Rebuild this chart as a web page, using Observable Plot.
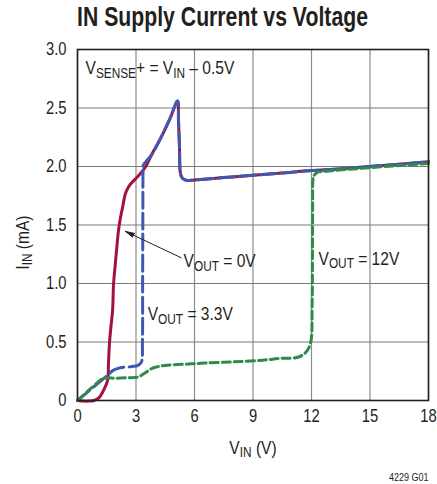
<!DOCTYPE html>
<html>
<head>
<meta charset="utf-8">
<script src="https://cdn.jsdelivr.net/npm/d3@7"></script>
<script src="https://cdn.jsdelivr.net/npm/@observablehq/plot@0.6"></script>
<style>
  html, body { margin: 0; padding: 0; background: #fff; }
  body { width: 437px; height: 484px; overflow: hidden; font-family: "Liberation Sans", Arial, sans-serif; }
  #title { height: 40px; box-sizing: border-box; padding-left: 77px; padding-top: 2px; font-size: 28px; font-weight: bold; color: #231f20; line-height: 30px; white-space: nowrap; }
  #title span { display: inline-block; transform-origin: 0 50%; }
  #chart svg { display: block; }
</style>
</head>
<body>
<div id="title"><span>IN Supply Current vs Voltage</span></div>
<div id="chart"></div>
<script>
// ---- data ----
const xTicks = [0, 3, 6, 9, 12, 15, 18];
const yTicks = [0, 0.5, 1.0, 1.5, 2.0, 2.5, 3.0];

// VOUT = 0V (solid red)
const vin0 = [0, 0.3, 0.6, 0.85, 1.08, 1.33, 1.54, 1.59, 1.64, 1.72, 1.8, 1.85, 1.93, 2.0, 2.1, 2.2, 2.31, 2.46, 2.6, 2.72, 2.95, 3.23, 3.5, 3.8, 4.26, 4.77, 5.13, 5.18, 5.23, 5.28, 5.38, 5.64, 6.0, 7.5, 9, 10.5, 12, 13.5, 15, 16.5, 18];
const iin0 = [0, -0.005, -0.005, 0, 0.02, 0.085, 0.17, 0.32, 0.49, 0.64, 0.77, 1.0, 1.15, 1.28, 1.45, 1.56, 1.65, 1.77, 1.82, 1.85, 1.89, 1.94, 2.0, 2.1, 2.24, 2.42, 2.56, 2.39, 2.16, 1.94, 1.9, 1.88, 1.885, 1.905, 1.925, 1.945, 1.965, 1.98, 2.0, 2.02, 2.04];

// VOUT = 3.3V (long-dashed blue)
const vin33 = [0, 0.5, 1.0, 1.5, 1.85, 2.2, 2.8, 3.1, 3.28, 3.33, 3.34, 3.35, 3.36, 3.37, 3.45, 3.6, 3.8, 4.26, 4.77, 5.13, 5.18, 5.23, 5.28, 5.38, 5.64, 6.0, 7.5, 9, 10.5, 12, 13.5, 15, 16.5, 18];
const iin33 = [0, 0.07, 0.14, 0.21, 0.26, 0.28, 0.29, 0.3, 0.33, 0.5, 1.0, 1.5, 1.97, 2.01, 2.03, 2.06, 2.1, 2.24, 2.42, 2.56, 2.39, 2.16, 1.94, 1.9, 1.88, 1.885, 1.905, 1.925, 1.945, 1.965, 1.98, 2.0, 2.02, 2.04];

// VOUT = 12V (short-dashed green)
const vin12 = [0, 0.5, 1.0, 1.33, 2.0, 2.6, 3.08, 3.5, 3.9, 4.5, 5.5, 6.5, 8.0, 9.5, 10.4, 11.3, 11.7, 11.95, 12.03, 12.05, 12.06, 12.07, 12.12, 12.3, 12.8, 15, 18];
const iin12 = [0, 0.075, 0.15, 0.19, 0.19, 0.195, 0.2, 0.24, 0.28, 0.3, 0.31, 0.32, 0.33, 0.345, 0.36, 0.37, 0.41, 0.49, 0.8, 1.3, 1.7, 1.88, 1.92, 1.95, 1.96, 1.99, 2.025];

// annotation labels
const noteText = ["V_{SENSE}+ = V_{IN} – 0.5V", "V_{OUT} = 0V", "V_{OUT} = 3.3V", "V_{OUT} = 12V"];
const noteX = [0.41, 5.44, 3.6, 12.36];
const noteY = [2.79, 1.14, 0.684, 1.16];

// arrow (tail -> head)
const arrowX1 = [5.32], arrowY1 = [1.22], arrowX2 = [2.46], arrowY2 = [1.445];

const xLabel = "V_{IN} (V)";
const yLabel = "I_{IN} (mA)";
const caption = "4229 G01";

// ---- build ----
const toRows = (xs, ys) => xs.map((x, i) => ({x, y: ys[i]}));
const s0 = toRows(vin0, iin0);
const s33 = toRows(vin33, iin33);
const s12 = toRows(vin12, iin12);
const notes = noteText.map((t, i) => ({t, x: noteX[i], y: noteY[i]}));
const arrows = arrowX1.map((x1, i) => ({x1, y1: arrowY1[i], x2: arrowX2[i], y2: arrowY2[i]}));

const FONT = '"Liberation Sans", Arial, sans-serif';
const INK = "#231f20";

const chart = Plot.plot({
  width: 437,
  height: 444,
  marginTop: 9,
  marginBottom: 84,
  marginLeft: 77,
  marginRight: 9,
  style: {fontFamily: FONT, color: INK, background: "#fff", overflow: "visible"},
  x: {domain: [0, 18]},
  y: {domain: [0, 3]},
  marks: [
    Plot.gridX(xTicks, {stroke: "#8c8c8c", strokeOpacity: 1, strokeWidth: 1.2}),
    Plot.gridY(yTicks, {stroke: "#7a7a7a", strokeOpacity: 1, strokeWidth: 1.2}),
    Plot.axisX(xTicks, {tickSize: 0, tickPadding: 9, fontSize: 18, label: null, tickFormat: d => String(d)}),
    Plot.axisY(yTicks, {tickSize: 0, tickPadding: 11, fontSize: 18, label: null, tickFormat: d => d === 0 ? "0" : d.toFixed(1)}),
    Plot.text(notes, {x: "x", y: "y", text: "t", textAnchor: "start", lineAnchor: "bottom", fontSize: 19, fill: INK, ariaLabel: "note"}),
    Plot.line(s0, {x: "x", y: "y", stroke: "#a3123f", strokeWidth: 3, curve: "catmull-rom"}),
    Plot.line(s33, {x: "x", y: "y", stroke: "#3d5ab0", strokeWidth: 3, strokeDasharray: "16,5", curve: "catmull-rom"}),
    Plot.line(s12, {x: "x", y: "y", stroke: "#2e8b48", strokeWidth: 3, strokeDasharray: "8,4", curve: "catmull-rom"}),
    Plot.arrow(arrows, {x1: "x1", y1: "y1", x2: "x2", y2: "y2", stroke: INK, fill: INK, strokeWidth: 1, headLength: 14, headAngle: 26, insetStart: 0, insetEnd: 0}),
    Plot.frame({stroke: INK, strokeWidth: 1.6}),
    Plot.text([xLabel], {frameAnchor: "bottom", textAnchor: "middle", lineAnchor: "bottom", dy: 53, fontSize: 19, fill: INK}),
    Plot.text([yLabel], {frameAnchor: "left", y: [1.35], rotate: -90, textAnchor: "middle", lineAnchor: "bottom", dx: -49, fontSize: 19, fill: INK}),
    Plot.text([caption], {frameAnchor: "bottom-right", textAnchor: "end", lineAnchor: "bottom", dy: 80, fontSize: 11, fill: INK})
  ]
});

document.getElementById("chart").appendChild(chart);

// title: condensed look
const tspan = document.querySelector("#title span");
const tw = tspan.getBoundingClientRect().width;
tspan.style.transform = `scaleX(${(291 / tw).toFixed(4)})`;

const svgNS = "http://www.w3.org/2000/svg";
const NARROW = 0.82;

// subscripts
function subscriptify(t) {
  const s = t.textContent;
  if (!s.includes("_{")) return;
  const fs = parseFloat(getComputedStyle(t).fontSize) || 18;
  while (t.firstChild) t.removeChild(t.firstChild);
  const re = /_\{([^}]*)\}/g;
  let last = 0, m, shifted = false;
  const add = (str, sub) => {
    if (!str) return;
    const ts = document.createElementNS(svgNS, "tspan");
    ts.textContent = str;
    if (sub) {
      ts.setAttribute("font-size", (fs * 0.76).toFixed(2));
      ts.setAttribute("dy", (fs * 0.19).toFixed(2));
      shifted = true;
    } else if (shifted) {
      ts.setAttribute("dy", (-fs * 0.19).toFixed(2));
      shifted = false;
    }
    t.appendChild(ts);
  };
  while ((m = re.exec(s))) {
    add(s.slice(last, m.index), false);
    add(m[1], true);
    last = m.index + m[0].length;
  }
  add(s.slice(last), false);
}
chart.querySelectorAll("text").forEach(subscriptify);

// condensed look for all chart text (scale about each text's anchor)
chart.querySelectorAll("text").forEach(t => {
  const tr = t.getAttribute("transform") || "";
  t.setAttribute("transform", `${tr} scale(${NARROW},1)`);
});

// white boxes behind annotation labels
chart.querySelectorAll('g[aria-label="note"] text').forEach(t => {
  const b = t.getBBox();
  const r = document.createElementNS(svgNS, "rect");
  const pad = 3;
  r.setAttribute("x", b.x - pad / NARROW);
  r.setAttribute("y", b.y - pad + 1);
  r.setAttribute("width", b.width + 2 * pad / NARROW);
  r.setAttribute("height", b.height + 2 * pad - 2);
  r.setAttribute("fill", "#fff");
  r.setAttribute("transform", t.getAttribute("transform"));
  t.parentNode.insertBefore(r, t);
});
</script>
</body>
</html>
